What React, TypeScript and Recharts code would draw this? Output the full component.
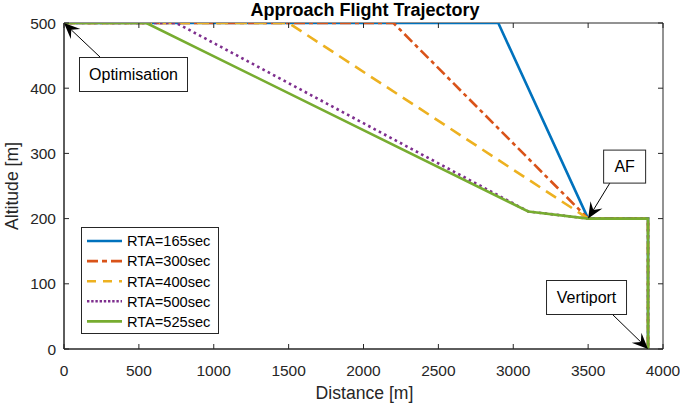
import React from 'react';
import { LineChart, Line, XAxis, YAxis, Legend, ReferenceDot, ReferenceArea } from 'recharts';

const FONT = '"Liberation Sans", Arial, Helvetica, sans-serif';

// Distances [m] and altitudes [m] for each RTA trajectory
const dist165 = [0, 2900, 3500, 3900, 3900];
const alt165 = [500, 500, 200, 200, 0];
const dist300 = [0, 2200, 3500, 3900, 3900];
const alt300 = [500, 500, 200, 200, 0];
const dist400 = [0, 1500, 3500, 3900, 3900];
const alt400 = [500, 500, 200, 200, 0];
const dist500 = [0, 750, 3100, 3500, 3900, 3900];
const alt500 = [500, 500, 211, 200, 200, 0];
const dist525 = [0, 550, 3100, 3500, 3900, 3900];
const alt525 = [500, 500, 211, 200, 200, 0];

const seriesNames = ['RTA=165sec', 'RTA=300sec', 'RTA=400sec', 'RTA=500sec', 'RTA=525sec'];
const seriesColors = ['#0072BD', '#D95319', '#EDB120', '#7E2F8E', '#77AC30'];

const xTicks = [0, 500, 1000, 1500, 2000, 2500, 3000, 3500, 4000];
const yTicks = [0, 100, 200, 300, 400, 500];

const titleText = 'Approach Flight Trajectory';
const xLabelText = 'Distance [m]';
const yLabelText = 'Altitude [m]';

// annotation anchor points (distance, altitude) and texts
const annotX = [0, 3500, 3900];
const annotY = [500, 200, 0];
const annotText = ['Optimisation', 'AF', 'Vertiport'];

const zip = (xs: number[], ys: number[]) => xs.map((x, i) => ({ x, y: ys[i] }));
const allData = [
  zip(dist165, alt165),
  zip(dist300, alt300),
  zip(dist400, alt400),
  zip(dist500, alt500),
  zip(dist525, alt525),
];

const lineDash = [undefined, '11 4 4 4', '12 7', '2.6 3.4', undefined];
const legendDash = [undefined, '11 4 5 4', '9 7', '2.4 1.8', undefined];

const AXIS = '#262626';
const CHART_W = 680;
const CHART_H = 408;
const MARGIN = { top: 23, right: 17, bottom: 29, left: 14 };
const X_AXIS_H = 30;
const Y_AXIS_W = 50;
const PLOT_W = CHART_W - MARGIN.left - MARGIN.right - Y_AXIS_W;
const PLOT_H = CHART_H - MARGIN.top - MARGIN.bottom - X_AXIS_H;
const TICK_LEN = 5;

// callout layouts relative to anchor: box [x0,y0,x1,y1], tail [x,y]
const calloutLayouts = [
  { box: [15, 34, 123, 68], tail: [36, 34] },
  { box: [15, -69, 57, -36], tail: [22, -36] },
  { box: [-102, -69, -22, -35], tail: [-36, -35] },
];

function Callout(props: any) {
  const { cx, cy, idx } = props;
  if (cx == null || cy == null) return null;
  const L = calloutLayouts[idx];
  const [bx0, by0, bx1, by1] = L.box;
  const tx = cx + L.tail[0];
  const ty = cy + L.tail[1];
  const dx = cx - tx;
  const dy = cy - ty;
  const len = Math.sqrt(dx * dx + dy * dy);
  const ux = dx / len;
  const uy = dy / len;
  const nx = -uy;
  const ny = ux;
  const HL = 16;
  const HW = 7;
  const NB = 10;
  const p1 = `${cx},${cy}`;
  const p2 = `${cx - HL * ux + HW * nx},${cy - HL * uy + HW * ny}`;
  const p3 = `${cx - NB * ux},${cy - NB * uy}`;
  const p4 = `${cx - HL * ux - HW * nx},${cy - HL * uy - HW * ny}`;
  return (
    <g>
      <line x1={tx} y1={ty} x2={cx - NB * ux} y2={cy - NB * uy} stroke="#000" strokeWidth={1} />
      <polygon points={`${p1} ${p2} ${p3} ${p4}`} fill="#000" />
      <rect
        x={cx + bx0 + 0.5}
        y={cy + by0 + 0.5}
        width={bx1 - bx0}
        height={by1 - by0}
        fill="#fff"
        stroke={AXIS}
        strokeWidth={1}
      />
      <text
        x={cx + (bx0 + bx1) / 2 + 0.5}
        y={cy + (by0 + by1) / 2 + 6}
        textAnchor="middle"
        fontFamily={FONT}
        fontSize={16}
        fill="#000"
      >
        {annotText[idx]}
      </text>
    </g>
  );
}

function LegendBox() {
  return (
    <svg width={138} height={107} style={{ display: 'block' }}>
      <rect x={0.5} y={0.5} width={137} height={106} fill="#fff" stroke={AXIS} strokeWidth={1} />
      {seriesNames.map((n, i) => {
        const cy = 14 + i * 20.1;
        return (
          <g key={n}>
            <line
              x1={6}
              x2={41}
              y1={cy}
              y2={cy}
              stroke={seriesColors[i]}
              strokeWidth={2.6}
              strokeDasharray={legendDash[i]}
            />
            <text x={46} y={cy + 5.3} fontFamily={FONT} fontSize={14.6} fill="#000">
              {n}
            </text>
          </g>
        );
      })}
    </svg>
  );
}

function XTick(p: any) {
  const { x, y, payload } = p;
  return (
    <g>
      <line x1={x} x2={x} y1={y} y2={y - TICK_LEN} stroke={AXIS} strokeWidth={1} />
      <line x1={x} x2={x} y1={y - PLOT_H} y2={y - PLOT_H + TICK_LEN} stroke={AXIS} strokeWidth={1} />
      <text x={x} y={y + 27} textAnchor="middle" fontFamily={FONT} fontSize={15.5} fill={AXIS}>
        {payload.value}
      </text>
    </g>
  );
}

function YTick(p: any) {
  const { x, y, payload } = p;
  return (
    <g>
      <line x1={x} x2={x + TICK_LEN} y1={y} y2={y} stroke={AXIS} strokeWidth={1} />
      <line x1={x + PLOT_W} x2={x + PLOT_W - TICK_LEN} y1={y} y2={y} stroke={AXIS} strokeWidth={1} />
      <text x={x - 8} y={y + 5.5} textAnchor="end" fontFamily={FONT} fontSize={15.5} fill={AXIS}>
        {payload.value}
      </text>
    </g>
  );
}

export default function App() {
  return (
    <div style={{ position: 'absolute', left: 0, top: 0, width: CHART_W, height: CHART_H, background: '#fff' }}>
      <LineChart width={CHART_W} height={CHART_H} margin={MARGIN}>
        <ReferenceArea
          x1={0}
          x2={4000}
          y1={0}
          y2={500}
          xAxisId="b"
          yAxisId="l"
          fill="none"
          fillOpacity={0}
          stroke={AXIS}
          strokeWidth={1}
          ifOverflow="visible"
        />
        <XAxis
          xAxisId="b"
          dataKey="x"
          type="number"
          domain={[0, 4000]}
          ticks={xTicks}
          interval={0}
          height={X_AXIS_H}
          tickSize={0}
          tickMargin={0}
          tickLine={false}
          tick={<XTick />}
          axisLine={{ stroke: AXIS }}
          allowDataOverflow
          label={{
            content: (p: any) => {
              const vb = p.viewBox || { x: 64, y: 349, width: 599, height: 30 };
              const cx = vb.x + vb.width / 2;
              return (
                <g>
                  <text x={cx + 1} y={399} textAnchor="middle" fontFamily={FONT} fontSize={17.6} fill={AXIS}>
                    {xLabelText}
                  </text>
                  <text x={cx + 1.5} y={16} textAnchor="middle" fontFamily={FONT} fontSize={18} fontWeight="bold" fill="#000">
                    {titleText}
                  </text>
                </g>
              );
            },
          }}
        />
        <YAxis
          yAxisId="l"
          type="number"
          domain={[0, 500]}
          ticks={yTicks}
          interval={0}
          width={Y_AXIS_W}
          tickSize={0}
          tickMargin={0}
          tickLine={false}
          tick={<YTick />}
          axisLine={{ stroke: AXIS }}
          allowDataOverflow
          label={{
            content: (p: any) => {
              const vb = p.viewBox || { x: 14, y: 23, width: 50, height: 326 };
              const cy = vb.y + vb.height / 2;
              return (
                <text
                  x={17.5}
                  y={cy}
                  transform={`rotate(-90, 17.5, ${cy})`}
                  textAnchor="middle"
                  fontFamily={FONT}
                  fontSize={17.6}
                  fill={AXIS}
                >
                  {yLabelText}
                </text>
              );
            },
          }}
        />
        {allData.map((d, i) => (
          <Line
            key={seriesNames[i]}
            name={seriesNames[i]}
            data={d}
            dataKey="y"
            xAxisId="b"
            yAxisId="l"
            type="linear"
            stroke={seriesColors[i]}
            strokeWidth={2.6}
            strokeDasharray={lineDash[i]}
            dot={false}
            activeDot={false}
            isAnimationActive={false}
          />
        ))}
        {annotX.map((ax, i) => (
          <ReferenceDot
            key={annotText[i]}
            x={ax}
            y={annotY[i]}
            xAxisId="b"
            yAxisId="l"
            r={0}
            ifOverflow="visible"
            shape={(p: any) => <Callout cx={p.cx} cy={p.cy} idx={i} />}
          />
        ))}
        <Legend
          layout="vertical"
          align="center"
          verticalAlign="middle"
          wrapperStyle={{ left: 81, top: 227, width: 138, height: 107 }}
          content={() => <LegendBox />}
        />
      </LineChart>
    </div>
  );
}
